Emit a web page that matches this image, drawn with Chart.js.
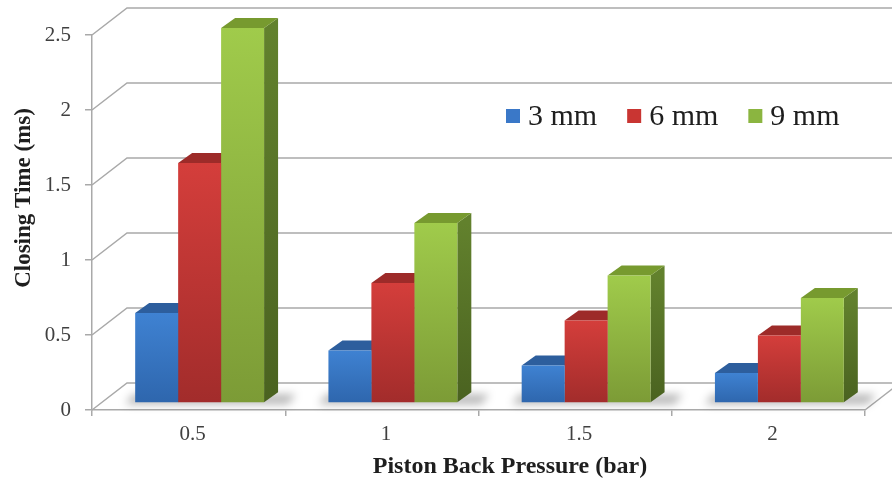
<!DOCTYPE html>
<html>
<head>
<meta charset="utf-8">
<script src="https://cdn.jsdelivr.net/npm/chart.js@4.4.0/dist/chart.umd.min.js"></script>
<style>
  html, body { margin: 0; padding: 0; background: #ffffff; }
  canvas { display: block; }
</style>
</head>
<body>
<canvas id="chart" width="892" height="483"></canvas>
<script>
// Closing time vs. piston back pressure, for three stroke lengths
const categories = ['0.5', '1', '1.5', '2'];
const seriesLabels = ['3 mm', '6 mm', '9 mm'];
const closing3mm = [0.6, 0.35, 0.25, 0.2];
const closing6mm = [1.6, 0.8, 0.55, 0.45];
const closing9mm = [2.5, 1.2, 0.85, 0.7];
const yTickValues = [0, 0.5, 1, 1.5, 2, 2.5];

const xTitle = 'Piston Back Pressure (bar)';
const yTitle = 'Closing Time (ms)';

// Oblique projection offsets for the pseudo-3D look
const WALL = { dx: 35, dy: -27 };  // back wall depth
const ROW  = { dx: 11, dy: -7 };   // where the bar row sits
const BAR  = { dx: 14, dy: -10 };  // thickness of each bar

const SERIF = "'Liberation Serif', 'Times New Roman', serif";
const GRID = '#a9a9a9';

const palettes = [
  { front: ['#3f82d2', '#2e66ad'], top: '#2d5e9d', side: ['#28528c', '#1f4272'], key: '#3a78c8' },
  { front: ['#d43e3b', '#a22c2b'], top: '#9d2b29', side: ['#8a2523', '#6e1c1b'], key: '#c93532' },
  { front: ['#a0cb4b', '#7c9b36'], top: '#779a2f', side: ['#62812d', '#4a6220'], key: '#8bb540' }
];

function frontFill(p) {
  return (c) => {
    const chart = c.chart;
    const ys = chart.scales.y;
    if (!ys || c.raw === undefined) return p.front[0];
    const top = ys.getPixelForValue(c.raw);
    const base = ys.getPixelForValue(0);
    if (!isFinite(top) || !isFinite(base) || top === base) return p.front[0];
    const g = chart.ctx.createLinearGradient(0, top, 0, base);
    g.addColorStop(0, p.front[0]);
    g.addColorStop(1, p.front[1]);
    return g;
  };
}

function poly(ctx, pts) {
  ctx.beginPath();
  ctx.moveTo(pts[0][0], pts[0][1]);
  for (let i = 1; i < pts.length; i++) ctx.lineTo(pts[i][0], pts[i][1]);
  ctx.closePath();
}

const depthPlugin = {
  id: 'depth3d',
  beforeDatasetsDraw(chart) {
    const { ctx, chartArea: a, scales } = chart;
    const ys = scales.y;
    ctx.save();

    // back wall gridlines with their diagonal returns to the front axis
    ctx.strokeStyle = GRID;
    ctx.lineWidth = 1.5;
    yTickValues.forEach(v => {
      const yf = ys.getPixelForValue(v);
      ctx.beginPath();
      ctx.moveTo(a.left, yf);
      ctx.lineTo(a.left + WALL.dx, yf + WALL.dy);
      ctx.lineTo(chart.width, yf + WALL.dy);
      ctx.stroke();
    });
    // right edge of the floor
    const y0 = ys.getPixelForValue(0);
    ctx.beginPath();
    ctx.moveTo(a.right, y0);
    ctx.lineTo(a.right + WALL.dx, y0 + WALL.dy);
    ctx.stroke();

    const metas = chart.getSortedVisibleDatasetMetas();
    const first = metas[0], last = metas[metas.length - 1];

    // soft floor shadow under each group of bars
    ctx.save();
    ctx.filter = 'blur(4px)';
    ctx.fillStyle = 'rgba(0,0,0,0.28)';
    first.data.forEach((el, i) => {
      const el2 = last.data[i];
      const l = el.x - el.width / 2 + ROW.dx;
      const r = el2.x + el2.width / 2 + ROW.dx + BAR.dx;
      const b = el.base + ROW.dy;
      poly(ctx, [[l - 10, b + 2], [r + 10, b + 2], [r + 18, b - 8], [l - 2, b - 8]]);
      ctx.fill();
    });
    ctx.restore();

    // side and top faces; the front faces drawn afterwards cover the hidden parts
    metas.forEach(meta => {
      const p = palettes[meta.index];
      meta.data.forEach(el => {
        const lx = el.x - el.width / 2 + ROW.dx;
        const rx = el.x + el.width / 2 + ROW.dx;
        const ty = el.y + ROW.dy;
        const by = el.base + ROW.dy;
        const sg = ctx.createLinearGradient(0, ty, 0, by);
        sg.addColorStop(0, p.side[0]);
        sg.addColorStop(1, p.side[1]);
        ctx.fillStyle = sg;
        poly(ctx, [[rx, ty], [rx + BAR.dx, ty + BAR.dy], [rx + BAR.dx, by + BAR.dy], [rx, by]]);
        ctx.fill();
        ctx.fillStyle = p.top;
        poly(ctx, [[lx, ty], [lx + BAR.dx, ty + BAR.dy], [rx + BAR.dx, ty + BAR.dy], [rx, ty]]);
        ctx.fill();
      });
    });
    ctx.restore();
  },
  beforeDatasetDraw(chart) {
    chart.ctx.save();
    chart.ctx.translate(ROW.dx, ROW.dy);
  },
  afterDatasetDraw(chart) {
    chart.ctx.restore();
  },
  afterDraw(chart) {
    const ctx = chart.ctx;
    ctx.save();
    // legend
    ctx.font = '30px ' + SERIF;
    ctx.textBaseline = 'middle';
    ctx.textAlign = 'left';
    let x = 506;
    const cy = 116;
    chart.data.datasets.forEach((ds, i) => {
      ctx.fillStyle = palettes[i].key;
      ctx.fillRect(x, cy - 7, 14, 14);
      ctx.fillStyle = '#1e1e1e';
      ctx.fillText(ds.label, x + 22, cy + 1);
      x += 22 + ctx.measureText(ds.label).width + 30;
    });

    // axis titles
    ctx.font = 'bold 24px ' + SERIF;
    ctx.fillStyle = '#1e1e1e';
    ctx.textAlign = 'center';
    ctx.textBaseline = 'middle';
    ctx.fillText(xTitle, 510, 467);
    ctx.translate(24, 198);
    ctx.rotate(-Math.PI / 2);
    ctx.font = 'bold 23px ' + SERIF;
    ctx.fillText(yTitle, 0, 0);
    ctx.restore();
  }
};

const seriesData = [closing3mm, closing6mm, closing9mm];

new Chart(document.getElementById('chart'), {
  type: 'bar',
  data: {
    labels: categories,
    datasets: seriesData.map((d, i) => ({
      label: seriesLabels[i],
      data: d,
      backgroundColor: frontFill(palettes[i]),
      borderWidth: 0,
      categoryPercentage: 0.667,
      barPercentage: 1,
      clip: false
    }))
  },
  options: {
    responsive: false,
    devicePixelRatio: 1,
    animation: false,
    layout: { padding: { top: 35, right: 27, left: 0, bottom: 0 } },
    plugins: { legend: { display: false }, tooltip: { enabled: false } },
    scales: {
      x: {
        offset: true,
        grid: { drawOnChartArea: false, drawTicks: true, tickLength: 6, color: GRID, lineWidth: 1.5 },
        border: { display: true, color: GRID, width: 1.5 },
        ticks: { font: { family: SERIF, size: 21 }, color: '#404040', padding: 6, labelOffset: 4, maxRotation: 0 },
        afterFit: s => { s.height = 73; }
      },
      y: {
        min: 0,
        max: 2.5,
        grid: { drawOnChartArea: false, drawTicks: true, tickLength: 7, color: GRID, lineWidth: 1.5 },
        border: { display: true, color: GRID, width: 1.5 },
        ticks: {
          font: { family: SERIF, size: 21 }, color: '#404040', padding: 14,
          callback: v => String(v)
        },
        afterBuildTicks: s => { s.ticks = yTickValues.map(v => ({ value: v })); },
        afterFit: s => { s.width = 92; }
      }
    }
  },
  plugins: [depthPlugin]
});
</script>
</body>
</html>
